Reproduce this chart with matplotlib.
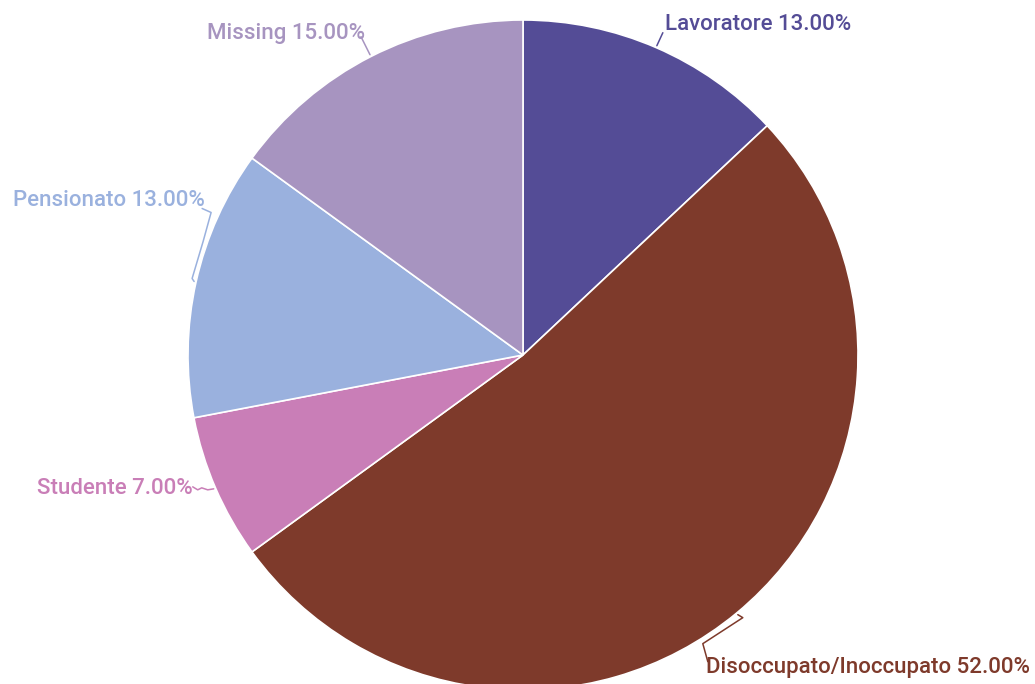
import matplotlib.pyplot as plt
import numpy as np

plt.rcParams['font.family'] = ['Roboto', 'DejaVu Sans']

labels = ["Lavoratore", "Disoccupato/Inoccupato", "Studente", "Pensionato", "Missing"]
values = [13.0, 52.0, 7.0, 13.0, 15.0]
colors = ["#544c96", "#7e3a2b", "#c97eb7", "#9ab1de", "#a794c0"]

W, H = 1035, 684
cx, cy, r = 523, H - 355, 335

fig = plt.figure(figsize=(W / 100, H / 100), dpi=100)
ax = fig.add_axes([0, 0, 1, 1])

wedges, _ = ax.pie(values, colors=colors, startangle=90, counterclock=False,
                   center=(cx, cy), radius=r,
                   wedgeprops=dict(edgecolor="white", linewidth=1.2))

# pie() resets the limits, so set them afterwards
ax.set_xlim(0, W)
ax.set_ylim(0, H)
ax.set_aspect("equal")
ax.axis("off")

# label text positions (x, y in pixels from top), alignment, and connector shape
label_pos = {
    "Lavoratore": (665, 24, "left"),
    "Disoccupato/Inoccupato": (706, 668, "left"),
    "Studente": (193, 489, "right"),
    "Pensionato": (205, 200, "right"),
    "Missing": (365, 33, "right"),
}
connectors = {
    "Lavoratore": [(0, 0), (6, -13)],
    "Disoccupato/Inoccupato": [(0, 0), (5, 3), (-35, 29), (-30, 47)],
    "Studente": [(0, 0), (-6, 1), (-12, -1), (-16, 1), (-21, -2)],
    "Pensionato": [(0, 0), (-2, -3), (9, -40), (17, -69), (8, -73)],
    "Missing": [(0, 0), (-9, -18)],
}

cum = np.cumsum([0] + values[:-1])
for lab, v, c0, col in zip(labels, values, cum, colors):
    mid = np.deg2rad((c0 + v / 2) / 100 * 360)
    ax_x = cx + (r + 2) * np.sin(mid)
    ax_y = (H - cy) - (r + 2) * np.cos(mid)
    pts = np.array([(ax_x + dx, ax_y + dy) for dx, dy in connectors[lab]])
    ax.plot(pts[:, 0], H - pts[:, 1], color=col, lw=1.1, solid_capstyle="round")
    tx, ty, ha = label_pos[lab]
    ax.text(tx, H - ty, f"{lab} {v:.2f}%", color=col, fontsize=16,
            fontweight="medium", ha=ha, va="center")

fig.savefig("out.png", dpi=100)
